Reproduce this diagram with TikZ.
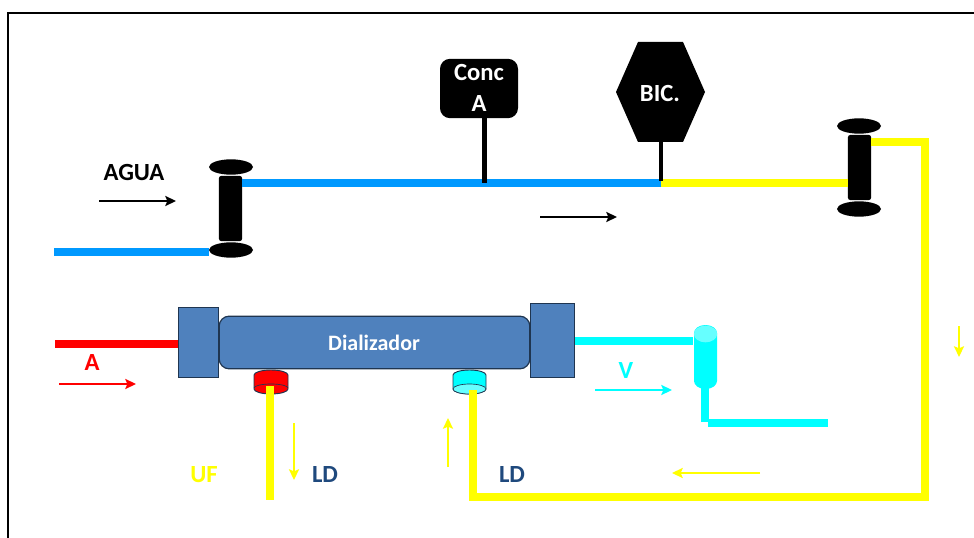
\documentclass[tikz,border=0pt]{standalone}
\usepackage{fontspec}
\setmainfont{Carlito}
\usetikzlibrary{arrows.meta,shapes.geometric}
\definecolor{pipeblue}{HTML}{0099FF}
\definecolor{dialblue}{HTML}{4F81BD}
\definecolor{dialedge}{HTML}{1F3550}
\definecolor{ldblue}{HTML}{1F497D}
\definecolor{cuptop}{HTML}{66FFFF}
\definecolor{pcyan}{HTML}{00FFFF}
\definecolor{pyellow}{HTML}{FFFF00}
\definecolor{pred}{HTML}{FF0000}
\tikzset{
  x=0.75pt,y=-0.75pt,
  pipe/.style={line width=6pt,line cap=butt,line join=miter},
  stem/.style={line width=3.6pt,black},
  flow/.style={line width=1.7pt,-{Stealth[length=8pt,width=7.5pt,inset=1.5pt]}},
  box/.style={draw=none,inner sep=0pt,outer sep=0pt},
  dlg/.style={box,draw=dialedge,line width=.9pt,fill=dialblue},
  disc/.style={ellipse,box,fill=black,minimum width=33pt,minimum height=11.5pt},
  spool/.style={box,fill=black,rounded corners=2pt,minimum width=17.5pt,minimum height=49pt},
  lbl/.style={inner sep=0pt,outer sep=0pt,font=\fontsize{18.5}{19}\selectfont\bfseries},
}
\begin{document}
\begin{tikzpicture}
\useasboundingbox (0,0) rectangle (974,538);
% frame
\coordinate (fbl) at (8,538);
\coordinate (ftl) at (8,13);
\coordinate (ftr) at (974,13);
\draw[line width=2.1pt,black,line join=miter] (fbl) -- (ftl) -- (ftr);

% left spool
\node[spool] (sp1) at (230.5,208.5) {};
\node[disc] (sp1t) at (231,167) {};
\node[disc] (sp1b) at (231,250) {};
% right spool
\node[spool] (sp2) at (859.5,167.5) {};
\node[disc] (sp2t) at (859,126) {};
\node[disc] (sp2b) at (859,209) {};

% additive boxes
\node[box,fill=black,rounded corners=7.5pt,minimum width=58.5pt,minimum height=44.5pt] (conc) at (479,88.5) {};
\node[lbl,text=white] at (479,73) {Conc};
\node[lbl,text=white] at (479,104) {A};
\path[fill=black] (638,42) -- (683,42) -- (705,92) -- (683,142) -- (638,142) -- (616,92) -- cycle;
\node[box,minimum width=33pt,minimum height=75pt] (bic) at (660.5,92) {};
\node[lbl,text=white] at (660,93) {BIC.};

% water line
\coordinate (inA) at (54,252);
\draw[pipe,pipeblue] (inA) -- (209,252);
\coordinate (junc) at (661,183);
\coordinate (concj) at (484.5,183);
\draw[pipe,pipeblue] (242,183) -- (junc);
\draw[pipe,pyellow] (junc) -- (848,183);
\draw[stem] (484.5,118) -- (concj);
\draw[stem] (661,142) -- (661,181);

% cups
\draw[draw=dialedge,line width=.7pt,fill=pred] (254,375) -- (254,389) arc[start angle=180,end angle=0,x radius=17,y radius=5] -- (288,375) arc[start angle=0,end angle=-180,x radius=17,y radius=5] -- cycle;
\draw[draw=dialedge,line width=.5pt] (254,388) arc[start angle=180,end angle=360,x radius=17,y radius=4];
\draw[draw=dialedge,line width=.7pt,fill=pcyan] (453,375) -- (453,389) arc[start angle=180,end angle=0,x radius=16.5,y radius=5] -- (486,375) arc[start angle=0,end angle=-180,x radius=16.5,y radius=5] -- cycle;
\draw[draw=dialedge,line width=.5pt,fill=cuptop] (453,389) arc[start angle=180,end angle=-180,x radius=16.5,y radius=5];

% return line
\coordinate (rc1) at (925,142);
\coordinate (rc2) at (925,497);
\coordinate (rc3) at (473,497);
\coordinate (rc4) at (473,390);
\draw[pipe,pyellow] (871,142) -- (rc1) -- (rc2) -- (rc3) -- (rc4);

% dialyzer
\node[dlg,rounded corners=7.5pt,minimum width=233pt,minimum height=39.5pt] (dial) at (374.5,342.5) {};
\node[dlg,minimum width=30.5pt,minimum height=53pt] (dl) at (198.5,342.5) {};
\node[dlg,minimum width=33.5pt,minimum height=56pt] (dr) at (552.5,340.5) {};
\node[lbl,text=white,font=\fontsize{16.5}{17}\selectfont\bfseries] at (374,343) {Dializador};

% lines at dialyzer
\coordinate (artE) at (55,344);
\draw[pipe,pred] (artE) -- (178,344);
\coordinate (uf1) at (270,386);
\coordinate (uf2) at (270,500);
\draw[pipe,pyellow] (uf1) -- (uf2);

% venous chamber
\path[fill=pcyan] (694,333) -- (694,381) arc[start angle=180,end angle=0,x radius=11.5,y radius=8] -- (717,333) arc[start angle=0,end angle=-180,x radius=11.5,y radius=8];
\node[box,ellipse,fill=cuptop,minimum width=17.5pt,minimum height=12.5pt] (cham) at (705.5,334) {};
\coordinate (vA) at (575,341);
\draw[pipe,pcyan] (vA) -- (693,341);
\coordinate (vB) at (705,388);
\coordinate (vC) at (705,422);
\draw[pipe,pcyan] (vB) -- (vC);
\draw[pipe,pcyan] (708,422.5) -- (828,422.5);

% flow arrows
\coordinate (a1s) at (99,201); \coordinate (a1e) at (176,201);
\draw[flow,black] (a1s) -- (a1e);
\coordinate (a2s) at (540,217); \coordinate (a2e) at (617,217);
\draw[flow,black] (a2s) -- (a2e);
\coordinate (a3s) at (59,384); \coordinate (a3e) at (136,384);
\draw[flow,pred] (a3s) -- (a3e);
\coordinate (a4s) at (595,390); \coordinate (a4e) at (672,390);
\draw[flow,pcyan] (a4s) -- (a4e);
\coordinate (a5s) at (294,423); \coordinate (a5e) at (294,480);
\draw[flow,pyellow] (a5s) -- (a5e);
\coordinate (a6s) at (448,467); \coordinate (a6e) at (448,418);
\draw[flow,pyellow] (a6s) -- (a6e);
\coordinate (a7s) at (760,473); \coordinate (a7e) at (672,473);
\draw[flow,pyellow] (a7s) -- (a7e);
\coordinate (a8s) at (959,326); \coordinate (a8e) at (959,357);
\draw[flow,pyellow] (a8s) -- (a8e);

% labels
\node[lbl] at (134,173) {AGUA};
\node[lbl,text=pred] at (92,363) {A};
\node[lbl,text=pcyan] at (626,371) {V};
\node[lbl,text=pyellow] at (204,475) {UF};
\node[lbl,text=ldblue] at (325,475) {LD};
\node[lbl,text=ldblue] at (512,475) {LD};
\end{tikzpicture}
\end{document}
